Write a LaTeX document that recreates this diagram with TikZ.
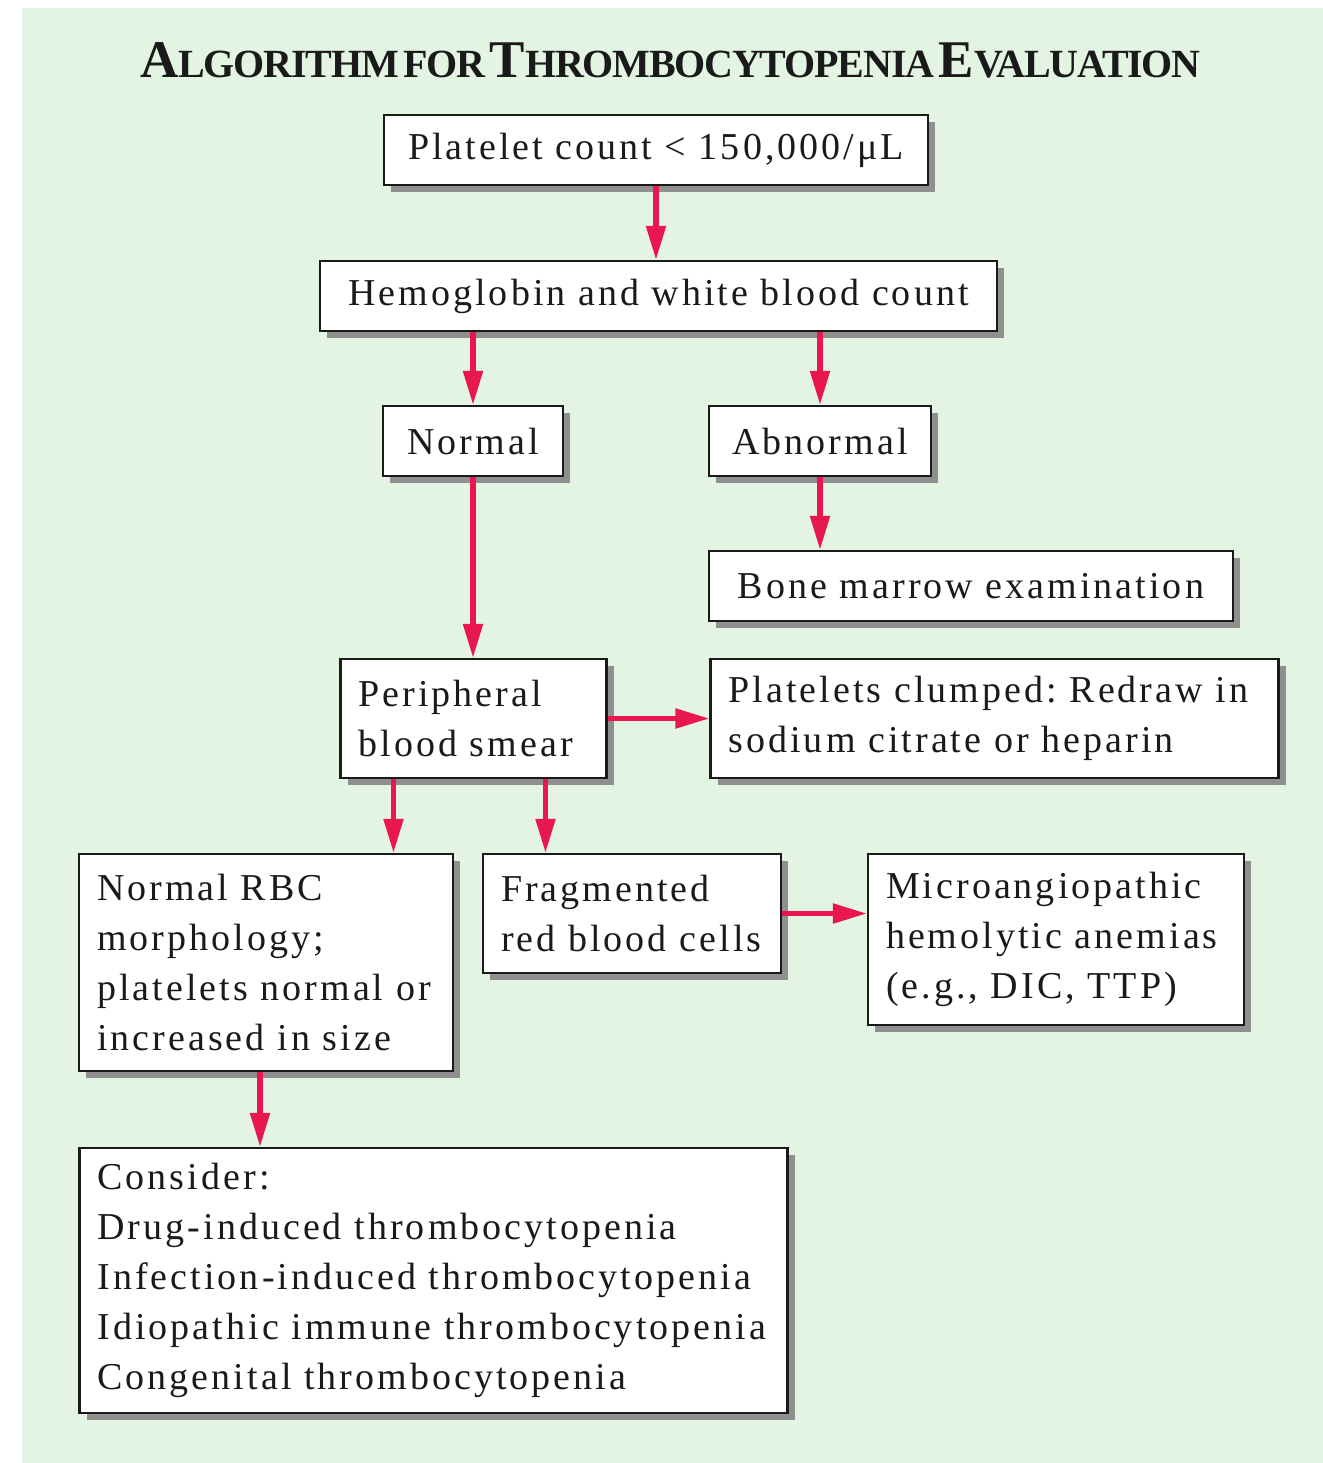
\documentclass[tikz,border=0pt]{standalone}
\usepackage{fontspec}
\setmainfont{Liberation Serif}[LetterSpace=8]
\newfontfamily\headfont{Liberation Serif}[LetterSpace=-3]
\frenchspacing
\usetikzlibrary{arrows.meta,shadows}
\definecolor{mint}{HTML}{E3F4E3}
\definecolor{ink}{HTML}{1A1A1A}
\definecolor{crimson}{HTML}{E8174F}
\definecolor{shade}{HTML}{8F8F8F}
\newcommand\capword[2]{{\fontsize{26.5}{30}\selectfont #1}{\fontsize{20}{24}\selectfont #2}}

\begin{document}
\begin{tikzpicture}[x=.5pt,y=-.5pt,line width=1.1pt,every node/.style={font=\fontsize{19}{25}\selectfont,text=ink},box/.style={draw=ink,fill=white,inner xsep=9pt,inner ysep=4pt,minimum height=35pt,drop shadow={shadow xshift=3.5pt,shadow yshift=-3.5pt,fill=shade,opacity=1}},tall/.style={box,align=left,text width=#1},flow/.style={-{Triangle[length=17pt,width=9.5pt]},crimson,line width=2.6pt}]
\path[use as bounding box] (0,0) rectangle (1323,1463);
\fill[mint] (22,8) rectangle (1323,1463);

\node[anchor=base,font=\headfont\bfseries,text=ink] (title) at (670.5,77) {\capword{A}{LGORITHM} {\fontsize{20}{24}\selectfont FOR} \capword{T}{HROMBOCYTOPENIA} \capword{E}{VALUATION}};

\node[box,minimum width=272pt] (plt) at (656,150) {Platelet count < 150,000/μL};
\node[box,minimum width=338.5pt] (hgb) at (658.5,296) {Hemoglobin and white blood count};
\node[box,minimum width=90pt] (nrm) at (473,441) {Normal};
\node[box,minimum width=111pt] (abn) at (820,441) {Abnormal};
\node[box,minimum width=262pt] (bone) at (971,586) {Bone marrow examination};
\node[tall=115pt,minimum height=59.5pt] (pbs) at (473.5,718.5) {Peripheral\\blood smear};
\node[tall=266pt,minimum height=59.5pt] (clump) at (994.5,718.5) {Platelets clumped: Redraw in\\sodium citrate or heparin};
\node[tall=169pt,minimum height=108.5pt] (rbc) at (266,962.5) {Normal RBC\\morphology;\\platelets normal or\\increased in size};
\node[tall=131pt,minimum height=59.5pt] (frag) at (632,913.5) {Fragmented\\red blood cells};
\node[tall=170pt,minimum height=85.5pt] (micro) at (1056,939.5) {Microangiopathic\\hemolytic anemias\\(e.g., DIC, TTP)};
\node[tall=336pt,minimum height=132.5pt] (cons) at (433.5,1280.5) {Consider:\\Drug-induced thrombocytopenia\\Infection-induced thrombocytopenia\\Idiopathic immune thrombocytopenia\\Congenital thrombocytopenia};

\draw[flow] (plt.south) -- (plt.south |- hgb.north);
\draw[flow] (nrm.north |- hgb.south) -- (nrm.north);
\draw[flow] (abn.north |- hgb.south) -- (abn.north);
\draw[flow] (abn.south) -- (abn.south |- bone.north);
\draw[flow] (nrm.south) -- (nrm.south |- pbs.north);
\draw[flow] (pbs.east) -- (pbs.east -| clump.west);
\draw[flow] ([xshift=-40pt]pbs.south) -- ([xshift=-40pt]pbs.south |- rbc.north);
\draw[flow] ([xshift=36pt]pbs.south) -- ([xshift=36pt]pbs.south |- frag.north);
\draw[flow] (frag.east) -- (frag.east -| micro.west);
\draw[flow] ([xshift=-3pt]rbc.south) -- ([xshift=-3pt]rbc.south |- cons.north);

\end{tikzpicture}
\end{document}
